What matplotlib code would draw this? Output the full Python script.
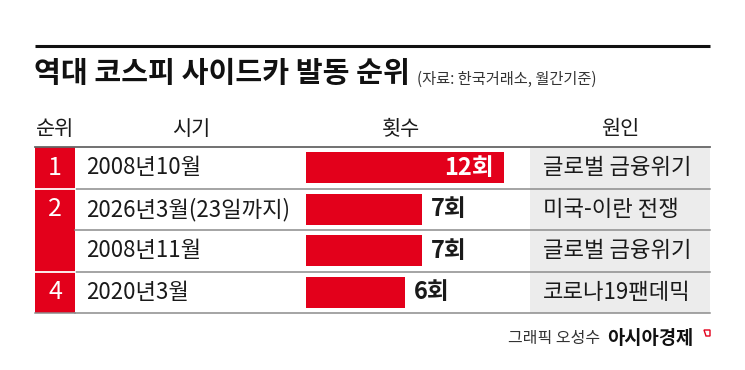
import matplotlib
matplotlib.use("Agg")
import matplotlib.pyplot as plt
from matplotlib.patches import Rectangle, Polygon

plt.rcParams['font.family'] = ['Noto Sans CJK KR', 'DejaVu Sans']

# data
ranks = ["1", "2", "2", "4"]
periods = ["2008년10월", "2026년3월(23일까지)", "2008년11월", "2020년3월"]
counts = [12, 7, 7, 6]
causes = ["글로벌 금융위기", "미국-이란 전쟁", "글로벌 금융위기", "코로나19팬데믹"]
headers = ["순위", "시기", "횟수", "원인"]

title = "역대 코스피 사이드카 발동 순위"
subtitle = "(자료: 한국거래소, 월간기준)"
credit = "그래픽 오성수"
brand = "아시아경제"

RED = "#e3001b"
GRAY_BG = "#ececec"
LINE = "#8c8c8c"
TXT = "#1a1a1a"

W, H = 745, 370
fig = plt.figure(figsize=(W / 100, H / 100), dpi=100)
ax = fig.add_axes([0, 0, 1, 1])
ax.set_xlim(0, W)
ax.set_ylim(H, 0)
ax.axis("off")

# table geometry (pixels)
left, right = 35, 710
top_row, bot_row = 147, 313
row_h = (bot_row - top_row) / len(ranks)
rank_x0, rank_x1 = 35, 75
cause_x0 = 530

def row_y(i):
    return top_row + row_h * (i + 0.5)

# title block
ax.plot([left, right], [45.7, 45.7], color="#111111", lw=2.2, solid_capstyle="butt")
ax.text(left - 1, 73, title, fontsize=21, fontweight="heavy", color="#111111",
        va="center", ha="left")
ax.text(417, 79, subtitle, fontsize=11, color="#333333", va="center", ha="left")

# headers
for h, x in zip(headers, [55, 191, 401, 620]):
    ax.text(x, 129, h, fontsize=15, color=TXT, ha="center", va="center")

# cause column background
ax.add_patch(Rectangle((cause_x0, top_row), right - cause_x0, bot_row - top_row,
                       facecolor=GRAY_BG, edgecolor="none", zorder=0))
# rank column red block
ax.add_patch(Rectangle((rank_x0, top_row), rank_x1 - rank_x0, bot_row - top_row,
                       facecolor=RED, edgecolor="none", zorder=1))

# horizontal rules
ax.plot([left, right], [top_row, top_row], color="#666666", lw=1.3, zorder=2)
for i in range(1, len(ranks) + 1):
    y = top_row + row_h * i
    ax.plot([rank_x1, right], [y, y], color=LINE, lw=1.1, zorder=2)
    if i < len(ranks) and ranks[i] != ranks[i - 1]:
        ax.plot([rank_x0, rank_x1], [y, y], color="white", lw=1.3, zorder=3)
ax.plot([rank_x0, rank_x1], [bot_row, bot_row], color=LINE, lw=1.1, zorder=2)

# rank numbers (merged cells show once)
for i, r in enumerate(ranks):
    if i > 0 and ranks[i - 1] == r:
        continue
    ax.text(55, row_y(i), r, fontsize=18, color="white", ha="center",
            va="center", zorder=4)

# periods and causes
for i, (p, c) in enumerate(zip(periods, causes)):
    ax.text(86, row_y(i), p, fontsize=16, color=TXT, ha="left", va="center")
    ax.text(543, row_y(i), c, fontsize=16, color=TXT, ha="left", va="center")

# bars
bx0, px_per = 306, 16.5
xmax = 13
bax = fig.add_axes([bx0 / W, (H - bot_row) / H, xmax * px_per / W, (bot_row - top_row) / H])
bax.set_xlim(0, xmax)
bax.set_ylim(len(counts) - 0.5, -0.5)
bax.axis("off")
bax.patch.set_alpha(0)
ypos = list(range(len(counts)))
bax.barh(ypos, counts, height=0.75, color=RED, edgecolor="none")
for y, v in zip(ypos, counts):
    if v == max(counts):
        bax.text(v - 0.65, y, f"{v}회", fontsize=17, color="white",
                 fontweight="bold", ha="right", va="center")
    else:
        bax.text(v + 0.55, y, f"{v}회", fontsize=17, color=TXT,
                 fontweight="bold", ha="left", va="center")

# footer
ax.text(600, 338, credit, fontsize=11.5, color="#333333", ha="right", va="center")
ax.text(607, 338, brand, fontsize=13.5, color="#111111", fontweight="bold",
        ha="left", va="center")
ax.add_patch(Polygon([[704, 330], [710, 330], [710, 336], [706, 336]], closed=True,
                     facecolor="none", edgecolor=RED, lw=1.0))

fig.savefig("out.png", dpi=100)
